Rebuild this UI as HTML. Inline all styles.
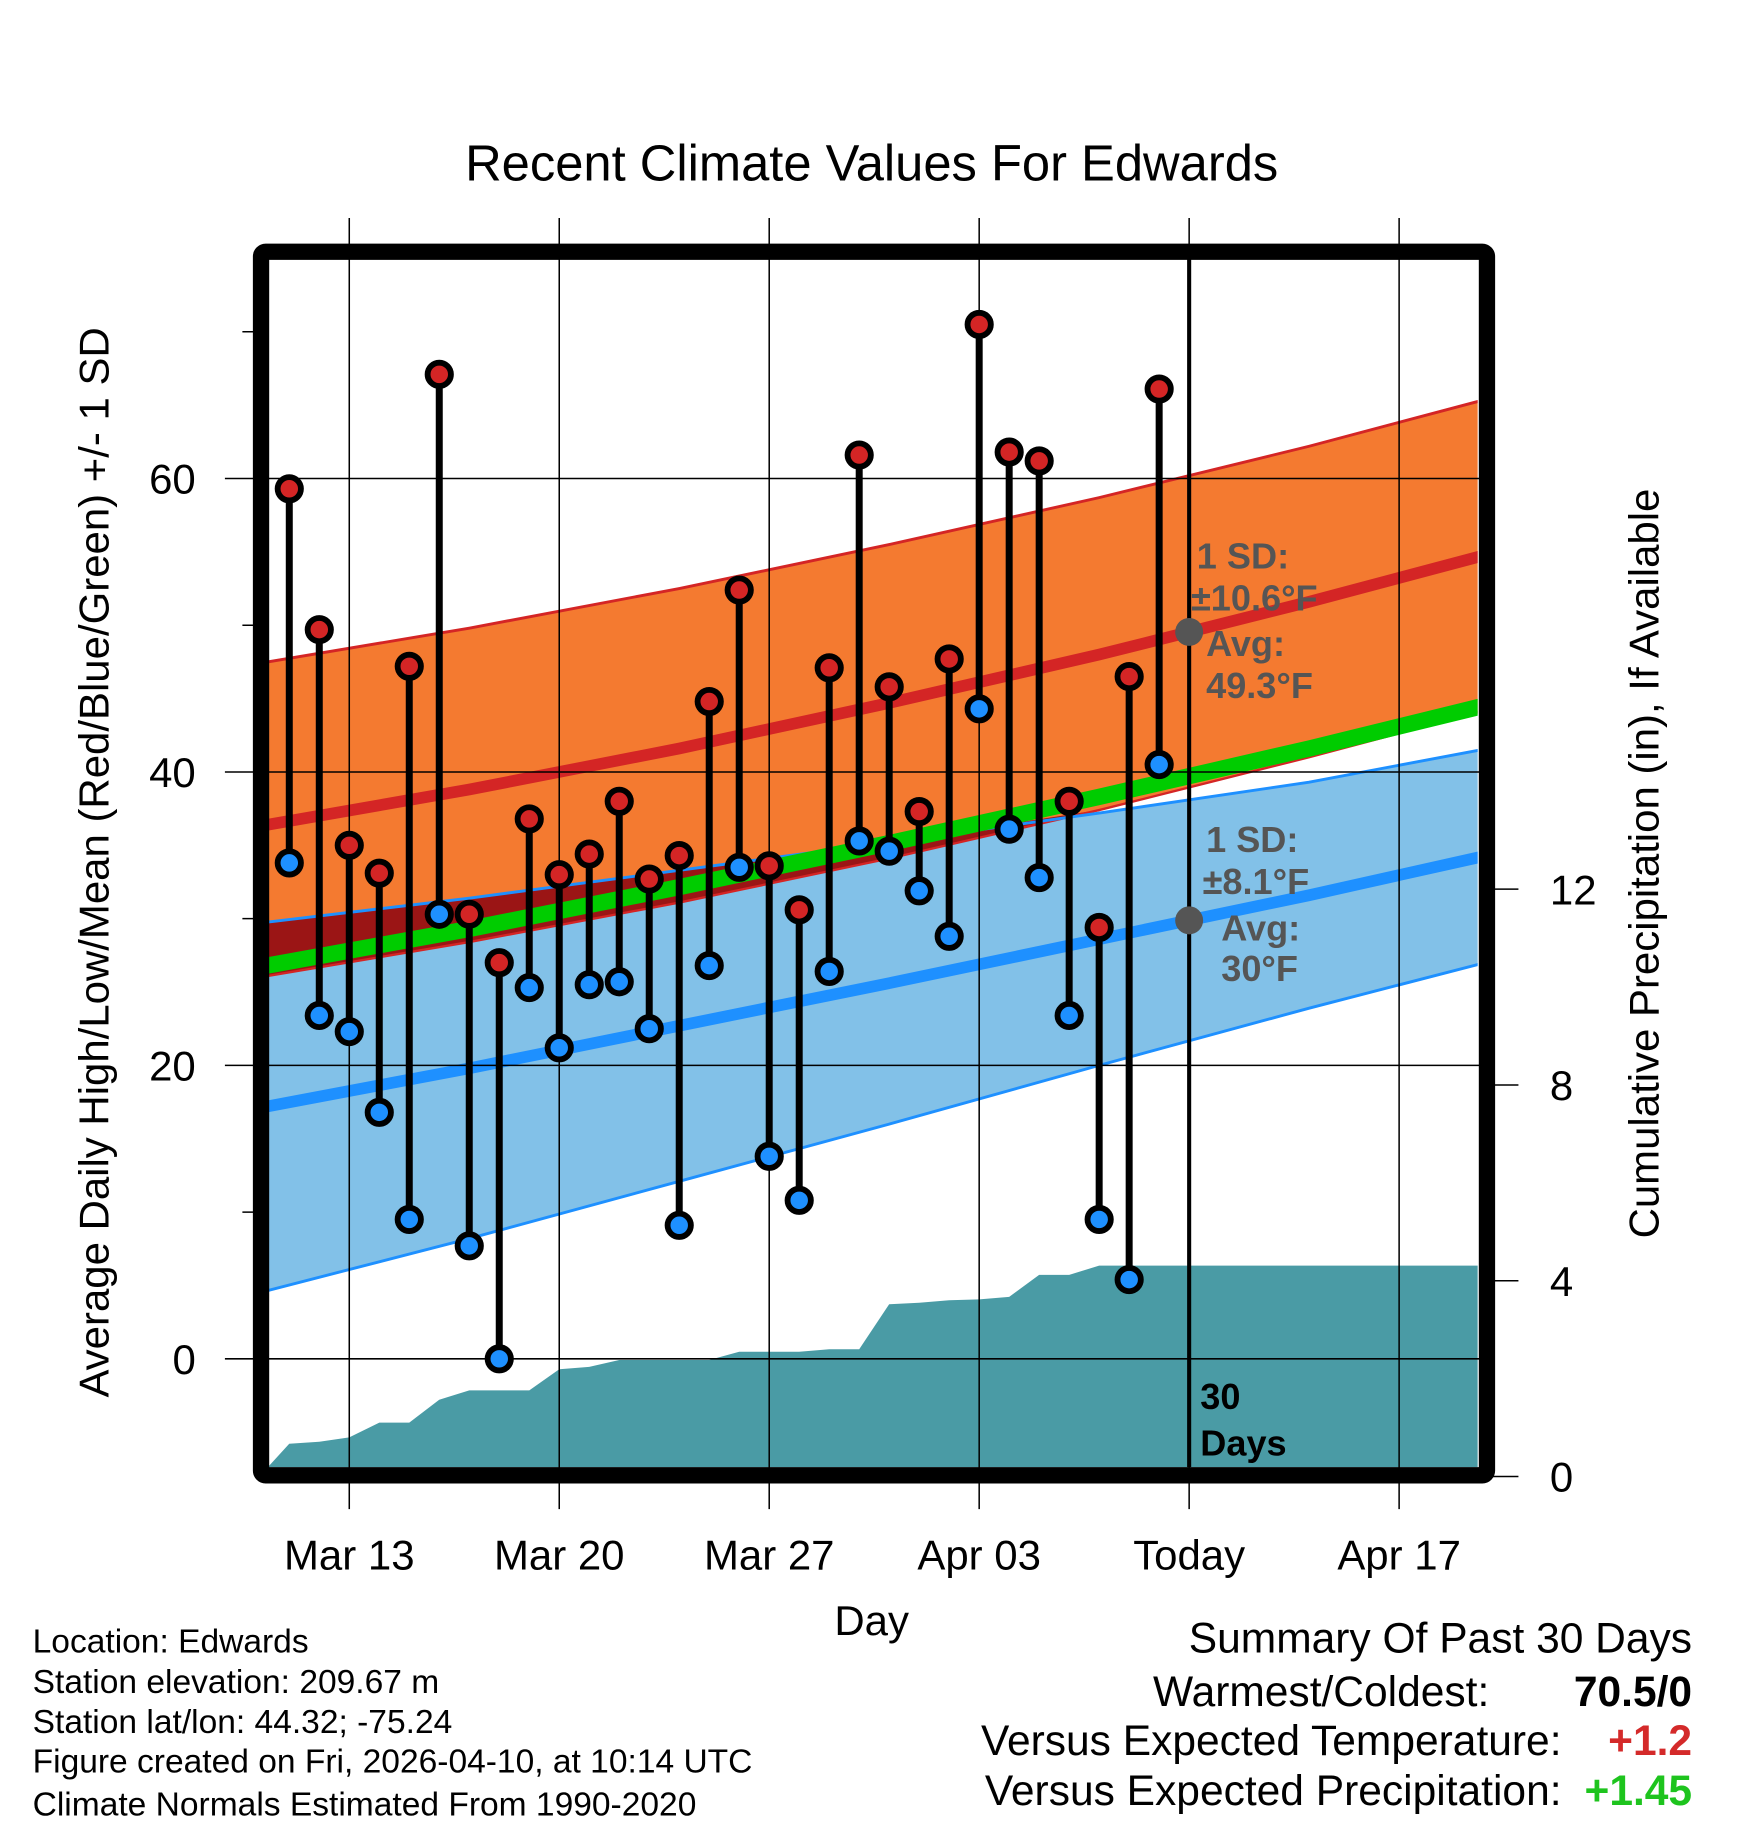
<!DOCTYPE html>
<html><head><meta charset="utf-8">
<style>
html,body{margin:0;padding:0;background:#fff;}
svg{display:block;font-family:"Liberation Sans",Arial,sans-serif;}
</style></head>
<body>
<svg id="chart" width="1748" height="1828" viewBox="0 0 1500 1568.6" xmlns="http://www.w3.org/2000/svg">
<defs><clipPath id="plotclip"><rect x="230" y="216" width="1038" height="1043"/></clipPath></defs>
<g id="bands" clip-path="url(#plotclip)"></g>
<g id="grid"></g>
<g id="marks" clip-path="url(#plotclip)"></g>
<g id="annot"></g>
<rect x="224" y="216" width="1052" height="1050" fill="none" stroke="#000" stroke-width="14" rx="4"/>
<g id="axes"></g>
<text x="748" y="155" font-size="43.5" text-anchor="middle">Recent Climate Values For Edwards</text>
<text transform="translate(93,740) rotate(-90)" font-size="36" text-anchor="middle">Average Daily High/Low/Mean (Red/Blue/Green) +/- 1 SD</text>
<text transform="translate(1423,741) rotate(-90)" font-size="36" text-anchor="middle">Cumulative Precipitation (in), If Available</text>
<text x="748" y="1403" font-size="36" text-anchor="middle">Day</text>
<g font-size="28.8">
<text x="28" y="1418">Location: Edwards</text>
<text x="28" y="1453">Station elevation: 209.67 m</text>
<text x="28" y="1487">Station lat/lon: 44.32; -75.24</text>
<text x="28" y="1521">Figure created on Fri, 2026-04-10, at 10:14 UTC</text>
<text x="28" y="1558">Climate Normals Estimated From 1990-2020</text>
</g>
<g font-size="36.5">
<text x="1452" y="1418" text-anchor="end">Summary Of Past 30 Days</text>
<text x="1278" y="1464" text-anchor="end">Warmest/Coldest:</text>
<text x="1452" y="1464" text-anchor="end" font-weight="bold">70.5/0</text>
<text x="1340" y="1506" text-anchor="end">Versus Expected Temperature:</text>
<text x="1452" y="1506" text-anchor="end" font-weight="bold" fill="#d42a2a">+1.2</text>
<text x="1340" y="1549" text-anchor="end">Versus Expected Precipitation:</text>
<text x="1452" y="1549" text-anchor="end" font-weight="bold" fill="#1ec41e">+1.45</text>
</g>
</svg>
<script>
// ---- data ----
const highs=[59.3,49.7,35.0,33.1,47.2,67.1,30.3,27.0,36.8,33.0,34.4,38.0,32.7,34.3,44.8,52.4,33.6,30.6,47.1,61.6,45.8,37.3,47.7,70.5,61.8,61.2,38.0,29.4,46.5,66.1];
const lows=[33.8,23.4,22.3,16.8,9.5,30.3,7.7,0,25.3,21.2,25.5,25.7,22.5,9.1,26.8,33.5,13.8,10.8,26.4,35.3,34.6,31.9,28.8,44.3,36.1,32.8,23.4,9.5,5.4,40.5];
const precip=[0,0.67,0.71,0.8,1.1,1.1,1.57,1.76,1.76,1.76,2.19,2.24,2.38,2.38,2.38,2.38,2.55,2.55,2.55,2.6,2.6,3.52,3.55,3.6,3.62,3.67,4.12,4.12,4.31,4.31,4.31];
const normDays=[0,7,14,21,28,35,42];
const normHigh=[36.3,38.8,41.6,44.7,48.0,51.6,55.4];
const normLow=[17.1,19.8,22.7,25.6,28.6,31.6,34.8];
const sdHighUp=[11.1,11.0,10.9,10.8,10.7,10.6,10.6];
const sdHighDn=[10.3,10.4,10.5,10.6,10.6,10.6,10.6];
const sdLow=[12.6,11.6,10.6,9.6,8.6,7.7,7.2];
const xTickDays=[3,10,17,24,31,38];
const xTickLabels=["Mar 13","Mar 20","Mar 27","Apr 03","Today","Apr 17"];
const yTicks=[0,20,40,60];
const yMinor=[10,30,50,70];
const y2Ticks=[0,4,8,12];
const todayDay=31;
// ---- scales ----
const X=d=>222.5+d*25.74;
const Y=v=>1166-v*12.59;
const Y2=p=>1267-p*42;
const NS="http://www.w3.org/2000/svg";
function mk(tag,attrs,parent){const e=document.createElementNS(NS,tag);for(const k in attrs)e.setAttribute(k,attrs[k]);parent.appendChild(e);return e;}
const bands=document.getElementById('bands'),grid=document.getElementById('grid'),marks=document.getElementById('marks'),annot=document.getElementById('annot'),axes=document.getElementById('axes');
const pts=(arr)=>arr.map(p=>p[0].toFixed(1)+','+p[1].toFixed(1)).join(' ');
const hU=normDays.map((d,i)=>[X(d),Y(normHigh[i]+sdHighUp[i])]);
const hL=normDays.map((d,i)=>[X(d),Y(normHigh[i]-sdHighDn[i])]);
const lU=normDays.map((d,i)=>[X(d),Y(normLow[i]+sdLow[i])]);
const lL=normDays.map((d,i)=>[X(d),Y(normLow[i]-sdLow[i])]);
let e;
e=mk('polygon',{points:pts(hU.concat(hL.slice().reverse())),fill:'#f47a30'},bands);


e=mk('polygon',{points:pts(lU.concat(lL.slice().reverse())),fill:'#82c1e8'},bands);


const ov=[],ovb=[];
normDays.forEach((d,i)=>{const top=normLow[i]+sdLow[i],bot=normHigh[i]-sdHighDn[i];const t=Math.max(top,bot);ov.push([X(d),Y(t)]);ovb.push([X(d),Y(bot)]);});
e=mk('polygon',{points:pts(ov.concat(ovb.slice().reverse())),fill:'#9b1515'},bands);


e=mk('polyline',{points:pts(hU),fill:'none',stroke:'#d42525','stroke-width':2.5},bands);


e=mk('polyline',{points:pts(hL),fill:'none',stroke:'#d42525','stroke-width':2},bands);


e=mk('polyline',{points:pts(lU),fill:'none',stroke:'#1e90ff','stroke-width':2.5},bands);


e=mk('polyline',{points:pts(lL),fill:'none',stroke:'#1e90ff','stroke-width':2.5},bands);


e=mk('polyline',{points:pts(normDays.map((d,i)=>[X(d),Y((normHigh[i]+normLow[i])/2)])),fill:'none',stroke:'#00cc00','stroke-width':14},bands);


e=mk('polyline',{points:pts(normDays.map((d,i)=>[X(d),Y(normHigh[i])])),fill:'none',stroke:'#d42525','stroke-width':10},bands);


e=mk('polyline',{points:pts(normDays.map((d,i)=>[X(d),Y(normLow[i])])),fill:'none',stroke:'#1e90ff','stroke-width':10},bands);


const pp=precip.map((p,i)=>[X(i),Y2(p)]);
pp.push([X(42),Y2(precip[precip.length-1])]);
e=mk('polygon',{points:pts(pp.concat([[X(42),1300],[X(0),1300]])),fill:'#4a9ba5'},bands);


xTickDays.forEach((d,i)=>{
 e=mk('line',{x1:X(d),x2:X(d),y1:187,y2:1295,stroke:'#000','stroke-width':1.3},grid);
 
 
 e=mk('text',{x:X(d),y:1347,'font-size':36,'text-anchor':'middle'},axes);
 e.textContent=xTickLabels[i];
 
 
});
yTicks.forEach(v=>{
 e=mk('line',{x1:193,x2:1276,y1:Y(v),y2:Y(v),stroke:'#000','stroke-width':1.3},grid);
 
 
 e=mk('text',{x:168,y:Y(v)+13,'font-size':36,'text-anchor':'end'},axes);
 e.textContent=v;
 
 
});
yMinor.forEach(v=>{
 e=mk('line',{x1:208,x2:224,y1:Y(v),y2:Y(v),stroke:'#000','stroke-width':1.3},axes);
 
 
});
y2Ticks.forEach(p=>{
 e=mk('line',{x1:1276,x2:1303,y1:Y2(p),y2:Y2(p),stroke:'#000','stroke-width':1.3},axes);
 
 
 e=mk('text',{x:1330,y:Y2(p)+13,'font-size':36},axes);
 e.textContent=p;
 
 
});
e=mk('line',{x1:X(todayDay),x2:X(todayDay),y1:216,y2:1262,stroke:'#000','stroke-width':3.5},marks);


highs.forEach((h,i)=>{
 const x=X(i+1);
 e=mk('line',{x1:x,x2:x,y1:Y(h),y2:Y(lows[i]),stroke:'#000','stroke-width':6},marks);
 
 
});
highs.forEach((h,i)=>{
 const x=X(i+1);
 e=mk('circle',{cx:x,cy:Y(h),r:10,fill:'#d42525',stroke:'#000','stroke-width':5},marks);
 
 
 e=mk('circle',{cx:x,cy:Y(lows[i]),r:10,fill:'#1e90ff',stroke:'#000','stroke-width':5},marks);
 
 
});
const tIdx=normDays.findIndex(d=>d>todayDay);
const f=(todayDay-normDays[tIdx-1])/(normDays[tIdx]-normDays[tIdx-1]);
const tHigh=normHigh[tIdx-1]+f*(normHigh[tIdx]-normHigh[tIdx-1]);
const tLow=normLow[tIdx-1]+f*(normLow[tIdx]-normLow[tIdx-1]);
e=mk('circle',{cx:X(todayDay),cy:Y(tHigh),r:12,fill:'#555'},annot);


e=mk('circle',{cx:X(todayDay),cy:Y(tLow),r:12,fill:'#555'},annot);


const lab=[[1027,488,'1 SD:','high-sd-label'],[1022,524,'±10.6°F','high-sd-value'],[1035,563,'Avg:','high-avg-label'],[1035,599,'49.3°F','high-avg-value'],
[1035,731,'1 SD:','low-sd-label'],[1032,767,'±8.1°F','low-sd-value'],[1048,807,'Avg:','low-avg-label'],[1048,842,'30°F','low-avg-value']];
lab.forEach(l=>{
 e=mk('text',{x:l[0],y:l[1],'font-size':31,'font-weight':'bold',fill:'#555'},annot);
 e.textContent=l[2];
 
 
});
e=mk('text',{x:1030,y:1209,'font-size':31,'font-weight':'bold'},annot);
e.textContent='30';


e=mk('text',{x:1030,y:1249,'font-size':31,'font-weight':'bold'},annot);
e.textContent='Days';


</script>
</body></html>
